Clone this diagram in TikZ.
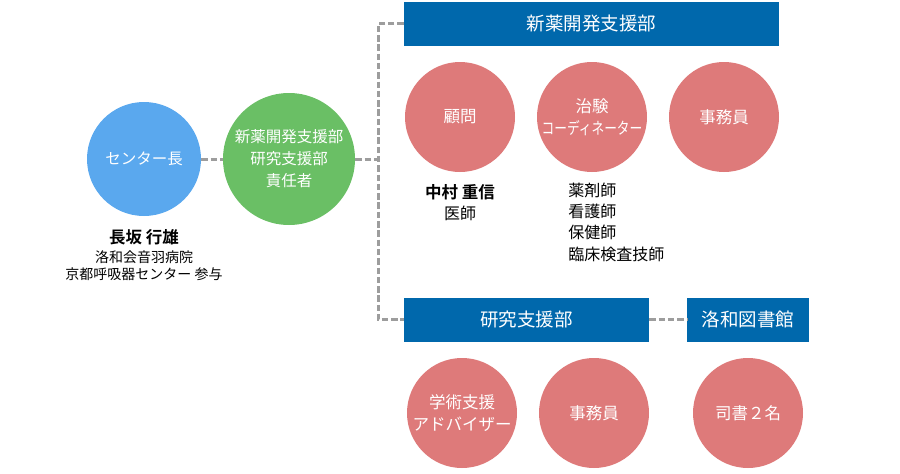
\documentclass[tikz,border=0pt]{standalone}
\usepackage{fontspec}
\newfontfamily\jpfont{Noto Sans CJK JP}
\newfontfamily\jpbold{Noto Sans CJK JP Bold}
\definecolor{chiefblue}{HTML}{5AA8EE}
\definecolor{leadgreen}{HTML}{6ABF65}
\definecolor{staffpink}{HTML}{DE7A7A}
\definecolor{deptblue}{HTML}{0068AC}
\definecolor{linkgray}{HTML}{9D9D9D}
\tikzset{every picture/.style={line width=0.75pt},
  circ/.style={circle, inner sep=0pt, text=white, align=center},
  pinkcirc/.style={circ, fill=staffpink, minimum size=110pt, font=\jpfont\fontsize{16.5}{22}\selectfont},
  deptbar/.style={rectangle, fill=deptblue, text=white, inner sep=0pt, minimum height=44pt, font=\jpfont\fontsize{18.5}{22}\selectfont},
  link/.style={draw=linkgray, line width=3pt, dash pattern=on 6.5pt off 2.8pt},
  caption/.style={inner sep=0pt, align=center, font=\jpfont\fontsize{14}{17.5}\selectfont}}

\begin{document}
\begin{tikzpicture}[x=1pt,y=1pt,yscale=-1,xscale=1]
		\path[use as bounding box] (0,0) rectangle (900,474);
		
		%Shape: Circle [chief]
		\node[circ, fill=chiefblue, minimum size=114pt, font=\jpfont\fontsize{15.5}{22}\selectfont] (chief) at (144,159) {センター長};
		%Shape: Circle [lead]
		\node[circ, fill=leadgreen, minimum size=132pt, font=\jpfont\fontsize{15.5}{22}\selectfont] (lead) at (289,159) {新薬開発支援部\\研究支援部\\責任者};
		
		%Shape: Rectangle [departments]
		\node[deptbar, minimum width=375pt] (drugdev) at (591.5,23.5) {新薬開発支援部};
		\node[deptbar, minimum width=245pt] (research) at (526.5,319.5) {研究支援部};
		\node[deptbar, minimum width=122pt] (library) at (748,319.5) {洛和図書館};
		
		%Shape: Circle [drug development staff]
		\node[pinkcirc] (advisor) at (460,117) {顧問};
		\node[pinkcirc, inner sep=-10pt] (crc) at (592,117) {治験\\\scalebox{0.77}[1]{コーディネーター}};
		\node[pinkcirc] (clerkA) at (724,117) {事務員};
		
		%Shape: Circle [research staff]
		\node[pinkcirc] (academic) at (462,413) {学術支援\\アドバイザー};
		\node[pinkcirc] (clerkB) at (594,413) {事務員};
		\node[pinkcirc] (librarian) at (748,413) {司書２名};
		
		%Connectors
		\coordinate (junc) at (378,159);
		\draw[link] (chief) -- (lead);
		\draw[link] (lead) -- (junc);
		\draw[link] (drugdev.west) -| (junc) |- (research.west);
		\draw[link] (research) -- (library);
		
		%Captions
		\node[caption, font=\jpbold\fontsize{16.5}{20}\selectfont] (chiefname) at (144,237) {長坂 行雄};
		\node[caption] (chiefpost) at (144,265.5) {洛和会音羽病院\\京都呼吸器センター 参与};
		\node[caption, font=\jpbold\fontsize{16.5}{20}\selectfont] (advname) at (460,192) {中村 重信};
		\node[caption, font=\jpfont\fontsize{16}{20}\selectfont] (advpost) at (460,213) {医師};
		\node[caption, align=left, anchor=west, font=\jpfont\fontsize{16}{21.3}\selectfont] (crclist) at (568,222) {薬剤師\\看護師\\保健師\\臨床検査技師};
		
	\end{tikzpicture}
\end{document}
